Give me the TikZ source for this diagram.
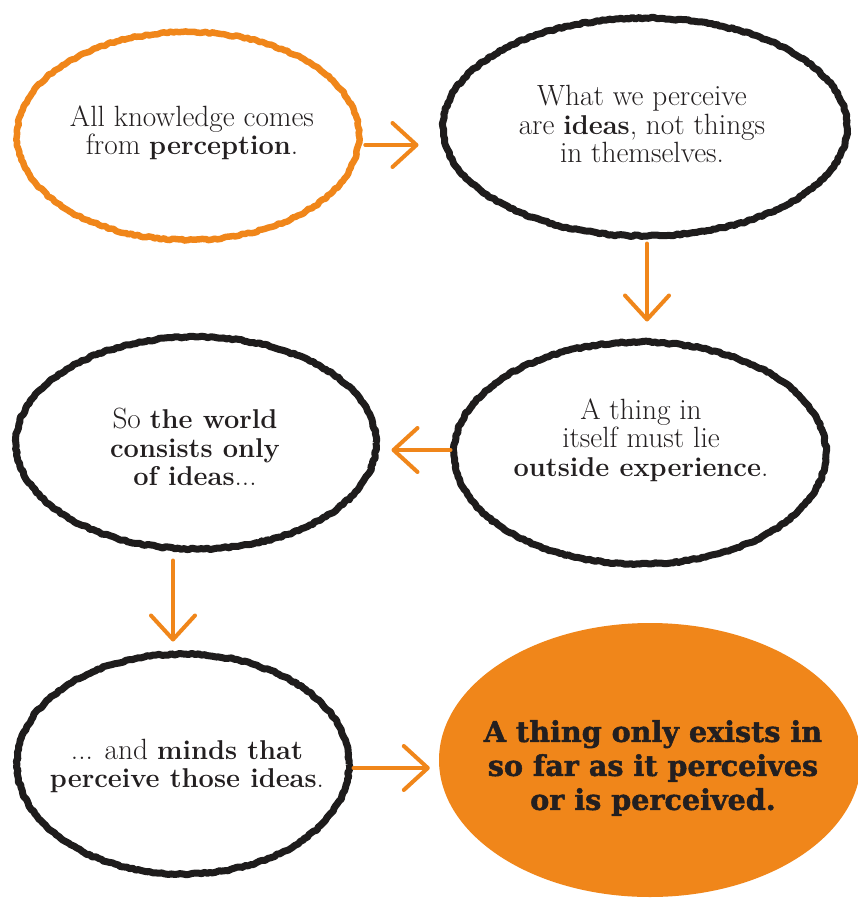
\documentclass[tikz,border=0pt]{standalone}
\usepackage{fontspec}
\newfontfamily\heavyfont{DejaVu Serif}[BoldFeatures={FakeBold=1.6}]
\usetikzlibrary{shapes.geometric,arrows.meta,calc,decorations.pathmorphing}
\definecolor{orng}{RGB}{240,134,26}
\definecolor{chalk}{RGB}{30,28,28}
\definecolor{ink}{RGB}{35,31,32}
\newcommand\bt[1]{{\fontsize{27.2}{28.5}\selectfont\bfseries #1}}
\tikzset{
  bubble/.style={ellipse, inner sep=0pt, draw=chalk, line width=7pt, line join=round,
    decorate, decoration={random steps, segment length=3pt, amplitude=0.9pt}},
  obubble/.style={bubble, draw=orng, line width=6.5pt},
  final/.style={ellipse, inner sep=0pt, fill=orng},
  txt/.style={align=center, text=ink, font=\fontsize{29.3}{28.5}\selectfont},
  bigtxt/.style={align=center, text=ink, font=\heavyfont\bfseries\fontsize{28.6}{34}\selectfont},
  arr/.style={draw=orng, line width=4pt, line cap=round,
    -{Straight Barb[length=24pt, width=44pt, round]}}
}
\begin{document}
\begin{tikzpicture}[x=1pt, y=-1pt]
\useasboundingbox (0,0) rectangle (858,899);
\clip (0,0) rectangle (858,899);
\fill[white] (0,0) rectangle (858,899);
% bubbles
\node[obubble, minimum width=342pt, minimum height=208pt] (e1) at (188,136) {};
\node[bubble, minimum width=404pt, minimum height=218pt] (e2) at (645,127) {};
\node[bubble, minimum width=372pt, minimum height=222pt] (e3) at (640,453) {};
\node[bubble, minimum width=360pt, minimum height=212pt] (e4) at (196,443) {};
\node[bubble, minimum width=332pt, minimum height=220pt] (e5) at (183,764) {};
\node[final, minimum width=422pt, minimum height=274pt] (e6) at (650,760) {};
% texts
\node[txt] (t1) at (192,133) {All knowledge comes\\from \bt{perception}.};
\node[txt] (t2) at (642,124) {What we perceive\\are \bt{ideas}, not things\\in themselves.};
\node[txt] (t3) at (641,440) {A thing in\\itself must lie\\\bt{outside experience}.};
\node[txt] (t4) at (195,447) {So \bt{the world}\\\bt{consists only}\\\bt{of ideas}...};
\node[txt] (t5) at (187,766) {... and \bt{minds that}\\\bt{perceive those ideas}.};
\node[bigtxt] (t6) at (653,768) {A thing only exists in\\so far as it perceives\\or is perceived.};
% connectors
\draw[arr] ($(e1.east)+(3,9)$) -- ($(e2.west)+(-21,18)$);
\draw[arr] ($(e2.south)+(2,4)$) -- ($(e3.north)+(7,-17)$);
\draw[arr] ($(e3.west)+(0,-3)$) -- ($(e4.east)+(12,7)$);
\draw[arr] ($(e4.south)+(-23,8)$) -- ($(e5.north)+(-10,-9)$);
\draw[arr] ($(e5.east)+(1,4)$) -- ($(e6.west)+(-9,8)$);
\end{tikzpicture}
\end{document}
